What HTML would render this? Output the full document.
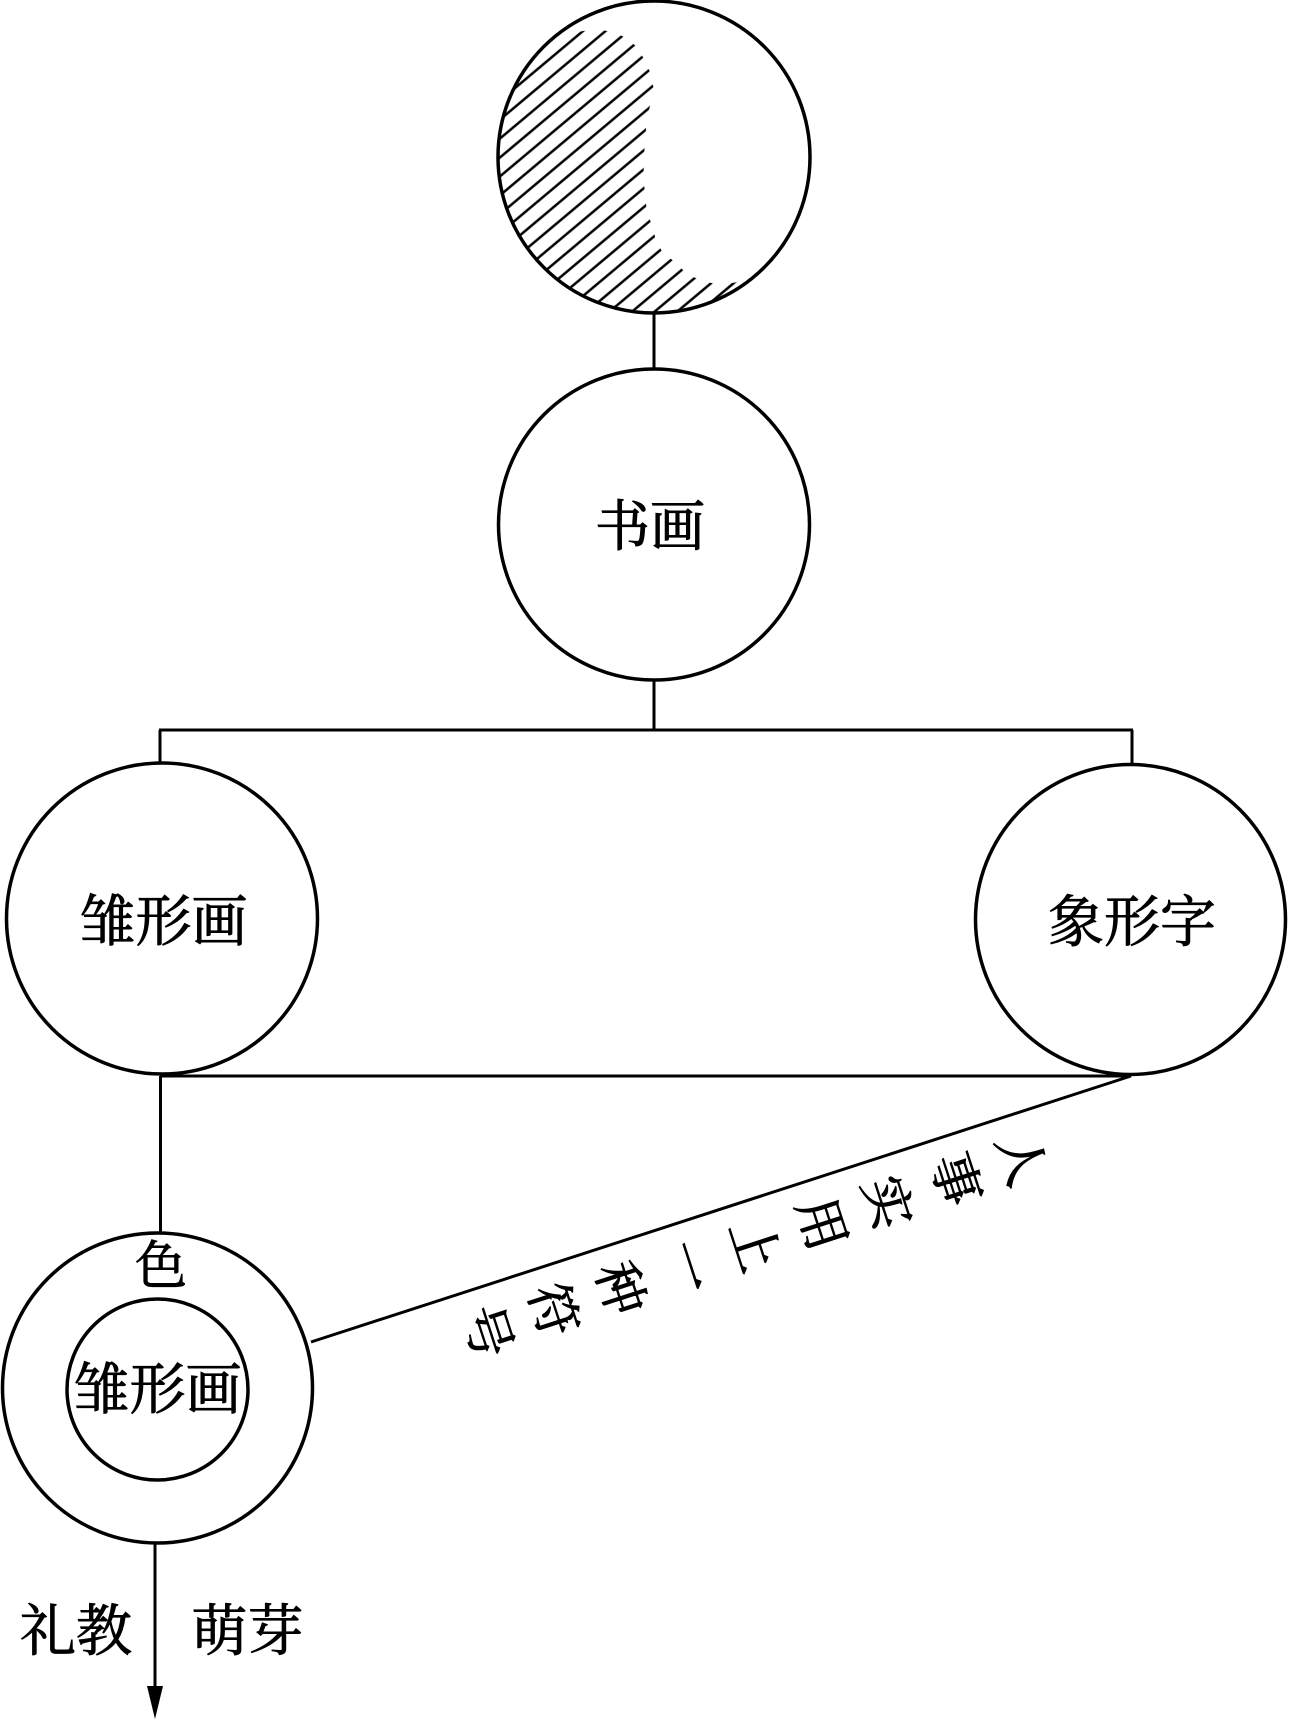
<!DOCTYPE html>
<html>
<head>
<meta charset="utf-8">
<style>
html,body{margin:0;padding:0;background:#fff;}
svg{display:block;}
text{font-family:"Liberation Serif","Noto Serif CJK SC","Noto Sans CJK SC",serif;fill:#000;stroke:#000;stroke-width:0.9;}
</style>
</head>
<body>
<svg width="1290" height="1720" viewBox="0 0 1290 1720" xmlns="http://www.w3.org/2000/svg">
<defs>
  <pattern id="hatch" width="14.5" height="14.5" patternUnits="userSpaceOnUse" patternTransform="rotate(-40)">
    <line x1="-2" y1="7" x2="17" y2="7" stroke="#000" stroke-width="2.4"/>
  </pattern>
  <clipPath id="circ">
    <circle cx="654" cy="157" r="155"/>
  </clipPath>
</defs>

<!-- top hatched circle -->
<g clip-path="url(#circ)">
  <path d="M440,-20 L540,-20 L560,36 L583,31 L599,29.5 L615,32.5 L627,38.5 L637,47 L644,59 L650,72 L654,90 L647,118 L645,140 L644,157 L643.5,177 L645,195 L647,212 L653,228 L656,241 L663,253 L675,262 L683,270 L693,277 L707,282 L720,285 L738,282 L760,340 L440,340 Z" fill="url(#hatch)"/>
</g>
<circle cx="654" cy="157" r="156" fill="none" stroke="#000" stroke-width="3.5"/>

<!-- connector top -> 书画 -->
<line x1="654" y1="313" x2="654" y2="369" stroke="#000" stroke-width="3"/>

<!-- 书画 circle -->
<circle cx="654" cy="524.5" r="155.5" fill="none" stroke="#000" stroke-width="3.5"/>
<text x="650" y="527" font-size="55" text-anchor="middle" dominant-baseline="central">书画</text>

<!-- connectors -->
<line x1="654" y1="680" x2="654" y2="730" stroke="#000" stroke-width="3"/>
<line x1="159" y1="730" x2="1133" y2="730" stroke="#000" stroke-width="3"/>
<line x1="160" y1="730" x2="160" y2="763" stroke="#000" stroke-width="3"/>
<line x1="1132" y1="730" x2="1132" y2="764" stroke="#000" stroke-width="3"/>

<!-- left circle -->
<circle cx="162" cy="918.5" r="155.5" fill="none" stroke="#000" stroke-width="3.5"/>
<text x="163.5" y="923" font-size="56" text-anchor="middle" dominant-baseline="central">雏形画</text>

<!-- right circle -->
<circle cx="1130.5" cy="919.5" r="155" fill="none" stroke="#000" stroke-width="3.5"/>
<text x="1132" y="923.5" font-size="56" text-anchor="middle" dominant-baseline="central">象形字</text>

<!-- bottom horizontal and diagonal -->
<line x1="160" y1="1076" x2="1131" y2="1076" stroke="#000" stroke-width="3"/>
<line x1="1131" y1="1076" x2="311" y2="1342" stroke="#000" stroke-width="3"/>

<!-- vertical to bottom circle -->
<line x1="160.5" y1="1076" x2="160.5" y2="1233" stroke="#000" stroke-width="3"/>

<!-- bottom outer & inner circles -->
<circle cx="157.5" cy="1388" r="155" fill="none" stroke="#000" stroke-width="3.5"/>
<circle cx="157.5" cy="1389.5" r="90.5" fill="none" stroke="#000" stroke-width="3.5"/>
<text x="161" y="1267.5" font-size="52" text-anchor="middle" dominant-baseline="central">色</text>
<text x="157.5" y="1391" font-size="56" text-anchor="middle" dominant-baseline="central">雏形画</text>

<!-- arrow -->
<line x1="155" y1="1543" x2="155" y2="1690" stroke="#000" stroke-width="3"/>
<polygon points="147,1686 163,1686 155,1719" fill="#000"/>
<text x="76" y="1632.5" font-size="56" text-anchor="middle" dominant-baseline="central">礼教</text>
<text x="247.5" y="1632.5" font-size="56" text-anchor="middle" dominant-baseline="central">萌芽</text>

<!-- diagonal rotated label -->
<g font-size="52">
  <text x="1020" y="1160" text-anchor="middle" dominant-baseline="central" transform="rotate(72 1020 1160)">人</text>
  <text x="954" y="1180" text-anchor="middle" dominant-baseline="central" transform="rotate(72 954 1180)">事</text>
  <text x="886" y="1203" text-anchor="middle" dominant-baseline="central" transform="rotate(72 886 1203)">实</text>
  <text x="820" y="1224.5" text-anchor="middle" dominant-baseline="central" transform="rotate(72 820 1224.5)">用</text>
  <text x="753" y="1246" text-anchor="middle" dominant-baseline="central" transform="rotate(72 753 1246)">上</text>
  <text x="686" y="1267.5" text-anchor="middle" dominant-baseline="central" transform="rotate(72 686 1267.5)">一</text>
  <text x="619" y="1289" text-anchor="middle" dominant-baseline="central" transform="rotate(72 619 1289)">种</text>
  <text x="552" y="1310.5" text-anchor="middle" dominant-baseline="central" transform="rotate(72 552 1310.5)">符</text>
  <text x="486" y="1332" text-anchor="middle" dominant-baseline="central" transform="rotate(72 486 1332)">号</text>
</g>
</svg>
</body>
</html>
